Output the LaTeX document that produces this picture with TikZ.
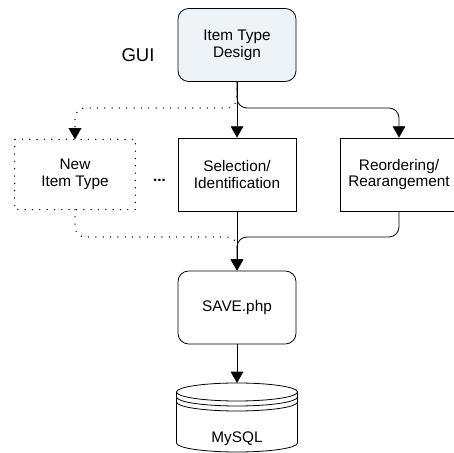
\documentclass[tikz,border=0pt]{standalone}
\usepackage{fontspec}
\setmainfont{Liberation Sans}
\usetikzlibrary{arrows.meta}
\definecolor{guifill}{RGB}{238,243,248}

\begin{document}
\begin{tikzpicture}[x=0.75pt,y=0.75pt,
	box/.style={draw, line width=0.6pt, minimum width=88.5pt, minimum height=54.75pt, inner sep=0pt, align=center, font=\fontsize{11.5}{12.5}\selectfont},
	roundbox/.style={box, rounded corners=8pt},
	dotline/.style={line width=1.1pt, dash pattern=on 0pt off 5.5pt, line cap=round},
	flow/.style={line width=0.6pt, -{Triangle[length=8.5pt,width=9.5pt]}}]
	\useasboundingbox (0,0) rectangle (454,453);
	% boxes of the flow
	\node[roundbox, fill=guifill] (design) at (237,408) {Item Type\\Design};
	\node[font=\fontsize{13.9}{15}\selectfont] (gui) at (138,397.5) {GUI};
	\node[box, draw=none, minimum width=90pt, minimum height=52pt] (newtype) at (75,278.5) {New\\Item Type};
	\draw[dotline] (newtype.north west) rectangle (newtype.south east);
	\node[font=\fontsize{11.5}{12.5}\selectfont\bfseries, anchor=base] (dots) at (159.5,271) {...};
	\node[box] (selection) at (237,278.5) {Selection/\\Identification};
	\node[box] (reorder) at (399,278.5) {Reordering/\\Rearangement};
	\node[roundbox] (save) at (237,145.5) {SAVE.php};
	\coordinate (split) at (237,345);
	\coordinate (merge) at (237,216);
	\coordinate (dbtop) at (237,70);
	% the database
	\draw[line width=0.6pt, fill=white] (176.5,61) -- (176.5,10) arc[start angle=180, end angle=360, x radius=45.375pt, y radius=6.75pt] -- (297.5,61);
	\draw[line width=0.6pt] (237,61) ellipse[x radius=45.375pt, y radius=6.75pt];
	\draw[line width=0.6pt] (176.5,56) arc[start angle=180, end angle=360, x radius=45.375pt, y radius=6.75pt];
	\draw[line width=0.6pt] (176.5,51) arc[start angle=180, end angle=360, x radius=45.375pt, y radius=6.75pt];
	\node[font=\fontsize{11.5}{12.5}\selectfont, anchor=base] (mysql) at (237,10) {MySQL};
	% connectors, dotted ones first
	\draw[dotline, rounded corners=7.5pt, -{Triangle[length=8.5pt,width=9.5pt]}] (design.south) -- (split) -| (newtype.north);
	\draw[dotline, rounded corners=7.5pt] (newtype.south) |- (merge) -- ++(0,-12);
	\draw[flow] (design.south) -- (selection.north);
	\draw[flow, rounded corners=7.5pt] (design.south) -- (split) -| (reorder.north);
	\draw[flow] (selection.south) -- (save.north);
	\draw[flow, rounded corners=7.5pt] (reorder.south) |- (merge) -- (save.north);
	\draw[flow] (save.south) -- (dbtop);
\end{tikzpicture}
\end{document}
